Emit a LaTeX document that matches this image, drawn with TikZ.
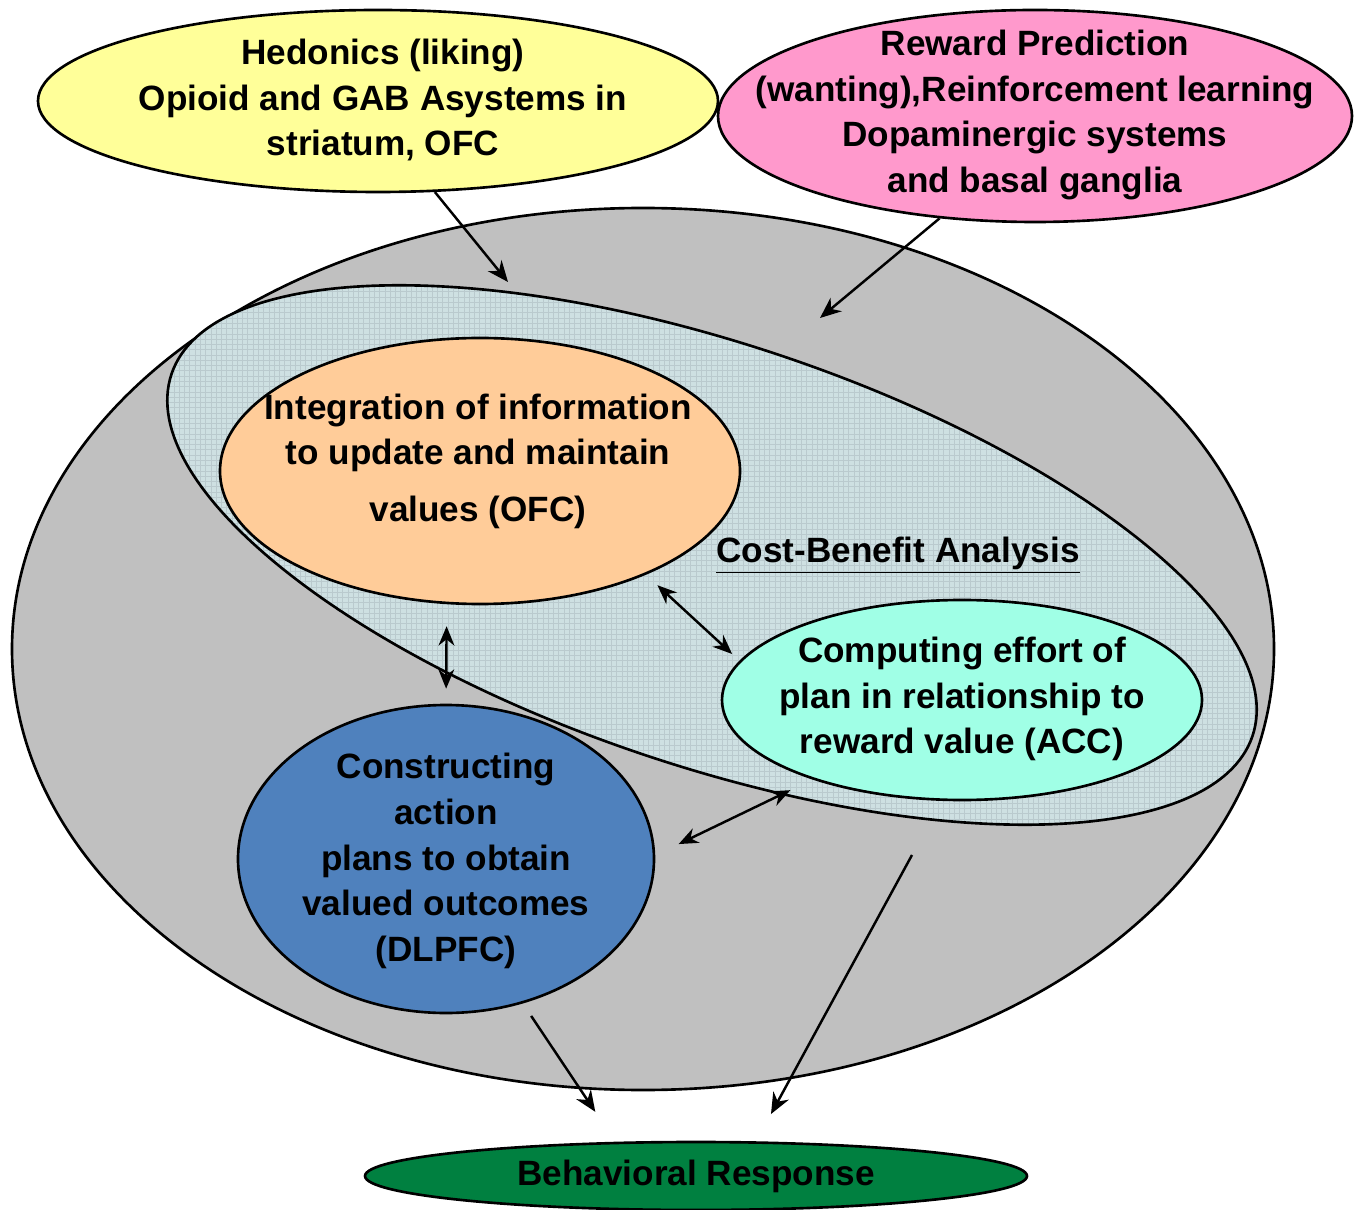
\documentclass[tikz,border=0pt]{standalone}
\usepackage{fontspec}
\setmainfont{Liberation Sans}
\usetikzlibrary{shapes.geometric, arrows.meta, patterns, positioning}

\definecolor{hedyellow}{RGB}{255,255,153}
\definecolor{rwdpink}{RGB}{255,153,204}
\definecolor{valgray}{RGB}{192,192,192}
\definecolor{cbfill}{RGB}{206,224,226}
\definecolor{cbgrid}{RGB}{186,202,206}
\definecolor{ofcorange}{RGB}{255,204,153}
\definecolor{acccyan}{RGB}{160,255,230}
\definecolor{dlpblue}{RGB}{79,129,189}
\definecolor{respgreen}{RGB}{0,128,64}

\begin{document}
\begin{tikzpicture}[
    blob/.style={ellipse, draw, line width=1.5pt, inner sep=0pt},
    txt/.style={align=center, font=\fontsize{20}{26}\selectfont\bfseries},
    arr/.style={-{Stealth[length=12pt,width=10pt]}, line width=1.4pt},
    dbl/.style={{Stealth[length=11pt,width=9pt]}-{Stealth[length=11pt,width=9pt]}, line width=1.4pt}]

  \useasboundingbox (0,0) rectangle (27.2,24.18);

  % inputs on top
  \node[blob, fill=hedyellow, minimum width=13.6cm, minimum height=3.64cm] (hed) at (7.56,22.16) {};
  \node[blob, fill=rwdpink, minimum width=12.68cm, minimum height=4.24cm] (rwd) at (20.7,21.86) {};
  \node[txt] (hedtxt) at (7.66,22.18) {Hedonics (liking)\\Opioid and GAB Asystems in\\striatum, OFC};
  \node[txt] (rwdtxt) at (20.7,21.88) {Reward Prediction\\(wanting),Reinforcement learning\\Dopaminergic systems\\and basal ganglia};

  % valuation system
  \node[blob, fill=valgray, minimum width=25.24cm, minimum height=17.64cm] (val) at (12.86,11.2) {};
  \node[blob, preaction={fill=cbfill}, pattern=grid, pattern color=cbgrid,
        minimum width=22.8cm, minimum height=8.44cm, rotate=-18.5] (cba) at (14.24,13.08) {};
  \node[txt] (cbatxt) at (17.96,13.08) {\underline{Cost-Benefit Analysis}};

  \node[blob, fill=ofcorange, minimum width=10.4cm, minimum height=5.32cm] (ofc) at (9.6,14.76) {};
  \node[blob, fill=acccyan, minimum width=9.6cm, minimum height=4cm] (acc) at (19.24,10.18) {};
  \node[blob, fill=dlpblue, minimum width=8.32cm, minimum height=6.16cm] (dlp) at (8.92,7.0) {};
  \node[txt] (ofctxt) at (9.56,14.96) {Integration of information\\to update and maintain\\[6pt]values (OFC)};
  \node[txt] (acctxt) at (19.24,10.2) {Computing effort of\\plan in relationship to\\reward value (ACC)};
  \node[txt] (dlptxt) at (8.92,6.96) {Constructing\\action\\plans to obtain\\valued outcomes\\(DLPFC)};

  % output
  \node[blob, fill=respgreen, minimum width=13.24cm, minimum height=1.36cm] (resp) at (13.92,0.66) {};
  \node[txt] (resptxt) at (13.92,0.66) {Behavioral Response};

  % connections
  \coordinate (hedin) at (10.16,18.54);
  \coordinate (rwdin) at (16.4,17.82);
  \coordinate (valout) at (18.24,7.08);

  \draw[arr] (hed.-58) -- (hedin);
  \draw[arr] (rwd.-133) -- (rwdin);
  \draw[dbl, shorten <=0.31cm, shorten >=0.2cm] (ofc.-32.4) -- (acc.170.2);
  \draw[dbl, shorten <=0.44cm, shorten >=0.3cm] (ofc.-104) -- (dlp.north);
  \draw[dbl, shorten <=0.52cm, shorten >=0.49cm] (dlp.1.5) -- (acc.208.9);
  \draw[arr, shorten <=0.3cm, shorten >=0.72cm] (dlp.-62) -- (resp.157);
  \draw[arr, shorten >=0.62cm] (valout) -- (resp.30);
\end{tikzpicture}
\end{document}
